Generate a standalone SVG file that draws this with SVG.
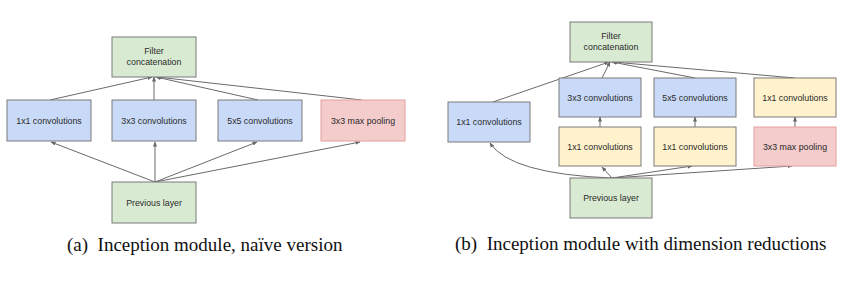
<svg xmlns="http://www.w3.org/2000/svg" width="853" height="283" viewBox="0 0 853 283">
<defs>
<marker id="ah" viewBox="0 0 10 10" refX="9" refY="5" markerWidth="5" markerHeight="5" orient="auto">
<path d="M0,1 L10,5 L0,9 z" fill="#666"/>
</marker>
<style>
.n rect{stroke:#7a7a7a;stroke-width:1}
.g rect{fill:#d9ead3}
.b rect{fill:#c9daf8}
.y rect{fill:#fff2cc}
.r rect{fill:#f4cccc;stroke:#e6a0a0}
.n text{font-family:"Liberation Sans",Arial,sans-serif;font-size:8.8px;fill:#2a2a2a;text-anchor:middle}
.c path{fill:none;stroke:#6a6a6a;stroke-width:1;marker-end:url(#ah)}
.cap{font-family:"Liberation Serif","Times New Roman",serif;font-size:19px;fill:#111;white-space:pre}
</style>
</defs>
<rect width="853" height="283" fill="#fff"/>
<g id="connectors-a" class="c">
<path d="M50,100 L152,77"/>
<path d="M154,100 L154,77"/>
<path d="M258,100 L156,77"/>
<path d="M362,100 L157,77"/>
<path d="M155,182 L51,142"/>
<path d="M155,182 L155,142"/>
<path d="M155,182 L257,142"/>
<path d="M155,182 L360,142"/>
</g>
<g id="a-concat" class="n g"><rect x="112" y="37" width="84" height="40"/><text x="154" y="54">Filter</text><text x="154" y="65">concatenation</text></g>
<g id="a-conv1" class="n b"><rect x="7" y="100" width="84" height="41"/><text x="49" y="124">1x1 convolutions</text></g>
<g id="a-conv3" class="n b"><rect x="112" y="100" width="84" height="41"/><text x="154" y="124">3x3 convolutions</text></g>
<g id="a-conv5" class="n b"><rect x="218" y="100" width="84" height="41"/><text x="260" y="124">5x5 convolutions</text></g>
<g id="a-pool" class="n r"><rect x="321" y="100" width="84" height="41"/><text x="363" y="124">3x3 max pooling</text></g>
<g id="a-prev" class="n g"><rect x="112" y="182" width="84" height="41"/><text x="154" y="206">Previous layer</text></g>
<text class="cap" x="67" y="251" xml:space="preserve">(a)  Inception module, naïve version</text>

<g id="connectors-b" class="c">
<path d="M493,102 L609,62"/>
<path d="M602,78 L610,62"/>
<path d="M695,78 L612,62"/>
<path d="M795,78 L613,62"/>
<path d="M600,127 L600,117"/>
<path d="M695,127 L695,117"/>
<path d="M795,127 L795,117"/>
<path d="M612,178 Q510,174 490,143"/>
<path d="M612,178 L602,167"/>
<path d="M612,178 L692,166"/>
<path d="M612,178 L792,166"/>
</g>
<g id="b-concat" class="n g"><rect x="570" y="22" width="82" height="40"/><text x="611" y="39">Filter</text><text x="611" y="50">concatenation</text></g>
<g id="b-conv1" class="n b"><rect x="448" y="102" width="82" height="40"/><text x="489" y="125">1x1 convolutions</text></g>
<g id="b-conv3" class="n b"><rect x="559" y="78" width="82" height="39"/><text x="600" y="101">3x3 convolutions</text></g>
<g id="b-conv5" class="n b"><rect x="654" y="78" width="82" height="39"/><text x="695" y="101">5x5 convolutions</text></g>
<g id="b-poolproj" class="n y"><rect x="754" y="78" width="82" height="39"/><text x="795" y="101">1x1 convolutions</text></g>
<g id="b-reduce3" class="n y"><rect x="559" y="127" width="82" height="39"/><text x="600" y="150">1x1 convolutions</text></g>
<g id="b-reduce5" class="n y"><rect x="654" y="127" width="82" height="39"/><text x="695" y="150">1x1 convolutions</text></g>
<g id="b-pool" class="n r"><rect x="754" y="127" width="82" height="39"/><text x="795" y="150">3x3 max pooling</text></g>
<g id="b-prev" class="n g"><rect x="570" y="178" width="82" height="40"/><text x="611" y="201">Previous layer</text></g>
<text class="cap" x="455" y="250" xml:space="preserve">(b)  Inception module with dimension reductions</text>
</svg>
